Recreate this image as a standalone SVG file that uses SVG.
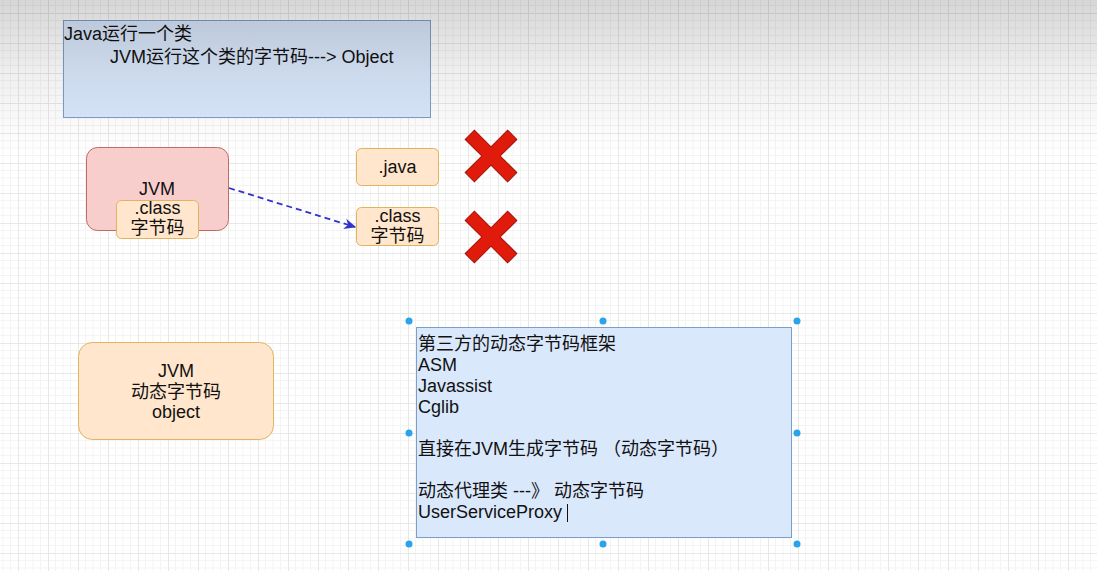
<svg xmlns="http://www.w3.org/2000/svg" width="1097" height="571" viewBox="0 0 1097 571">
  <defs>
    <pattern id="grid" patternUnits="userSpaceOnUse" x="18" y="13" width="30" height="30">
      <path d="M7.5 0V30M15 0V30M22.5 0V30M0 7.5H30M0 15H30M0 22.5H30" stroke="#f3f3f3" stroke-width="1" fill="none"/>
      <path d="M0.5 0V30M0 0.5H30" stroke="#e7e7e7" stroke-width="1" fill="none"/>
    </pattern>
    <linearGradient id="shade" x1="0" y1="0" x2="0" y2="1">
      <stop offset="0" stop-color="#000" stop-opacity="0.16"/>
      <stop offset="0.5" stop-color="#000" stop-opacity="0.06"/>
      <stop offset="1" stop-color="#000" stop-opacity="0"/>
    </linearGradient>
    <marker id="arrow" viewBox="0 0 10 10" refX="9" refY="5" markerWidth="12" markerHeight="12" markerUnits="userSpaceOnUse" orient="auto">
      <path d="M0 0.5L10 5L0 9.5L3 5Z" fill="#3333cc"/>
    </marker>
    <polygon id="cross" points="30,6.5 6.5,6.5 6.5,30 -6.5,30 -6.5,6.5 -30,6.5 -30,-6.5 -6.5,-6.5 -6.5,-30 6.5,-30 6.5,-6.5 30,-6.5"/>
  </defs>
  <style>
    text { font-family: "Liberation Sans", "Noto Sans CJK SC", sans-serif; font-size: 18px; fill: #111; }
    .c { text-anchor: middle; }
    .blue { fill: #dae8fc; stroke: #7d9ec8; stroke-width: 1; }
    .orange { fill: #ffe6cc; stroke: #e2b35e; stroke-width: 1; }
    .pink { fill: #f8cecc; stroke: #c06a66; stroke-width: 1; }
    .x { fill: #e01b0b; stroke: #a50f05; stroke-width: 1; }
    .handle { fill: #29a3ea; }
  </style>
  <rect width="1097" height="571" fill="#ffffff"/>
  <rect width="1097" height="571" fill="url(#grid)"/>

  <g id="connectors">
    <line x1="229" y1="188" x2="355" y2="227" stroke="#3333cc" stroke-width="1.8" stroke-dasharray="6 4" marker-end="url(#arrow)"/>
  </g>

  <g id="title">
    <rect class="blue" x="63.5" y="20.5" width="367" height="97"/>
    <text x="64" y="40">Java运行一个类</text>
    <text x="110" y="63">JVM运行这个类的字节码---&gt; Object</text>
  </g>

  <g id="jvm">
    <rect class="pink" x="86.5" y="147.5" width="142" height="83" rx="11"/>
    <text class="c" x="157" y="195">JVM</text>
  </g>

  <g id="jvm-class">
    <rect class="orange" x="116.5" y="200.5" width="82" height="38" rx="5"/>
    <text class="c" x="157.5" y="214">.class</text>
    <text class="c" x="157.5" y="234">字节码</text>
  </g>

  <g id="java-file">
    <rect class="orange" x="356.5" y="148.5" width="82" height="37" rx="5"/>
    <text class="c" x="397.5" y="173">.java</text>
  </g>

  <g id="class-file">
    <rect class="orange" x="356.5" y="207.5" width="82" height="38" rx="5"/>
    <text class="c" x="397.5" y="222">.class</text>
    <text class="c" x="397.5" y="242">字节码</text>
  </g>

  <g id="cross1">
    <use href="#cross" class="x" transform="translate(491,156) rotate(45)"/>
  </g>
  <g id="cross2">
    <use href="#cross" class="x" transform="translate(491,237) rotate(45)"/>
  </g>

  <g id="jvm-dynamic">
    <rect class="orange" x="78.5" y="342.5" width="195" height="97" rx="14"/>
    <text class="c" x="176" y="377">JVM</text>
    <text class="c" x="176" y="398">动态字节码</text>
    <text class="c" x="176" y="418">object</text>
  </g>

  <g id="frameworks">
    <rect class="blue" x="416.5" y="327.5" width="375" height="210"/>
    <text x="418" y="350">第三方的动态字节码框架</text>
    <text x="418" y="371">ASM</text>
    <text x="418" y="392">Javassist</text>
    <text x="418" y="413">Cglib</text>
    <text x="418" y="455">直接在JVM生成字节码 （动态字节码）</text>
    <text x="418" y="497">动态代理类 ---》 动态字节码</text>
    <text x="418" y="518">UserServiceProxy</text>
    <line x1="567.5" y1="504" x2="567.5" y2="522" stroke="#111" stroke-width="1"/>
    <circle class="handle" cx="409" cy="321" r="3.5"/>
    <circle class="handle" cx="603" cy="321" r="3.5"/>
    <circle class="handle" cx="797" cy="321" r="3.5"/>
    <circle class="handle" cx="409" cy="433" r="3.5"/>
    <circle class="handle" cx="797" cy="433" r="3.5"/>
    <circle class="handle" cx="409" cy="544" r="3.5"/>
    <circle class="handle" cx="603" cy="544" r="3.5"/>
    <circle class="handle" cx="797" cy="544" r="3.5"/>
  </g>

  <rect width="1097" height="150" fill="url(#shade)" pointer-events="none"/>
</svg>
